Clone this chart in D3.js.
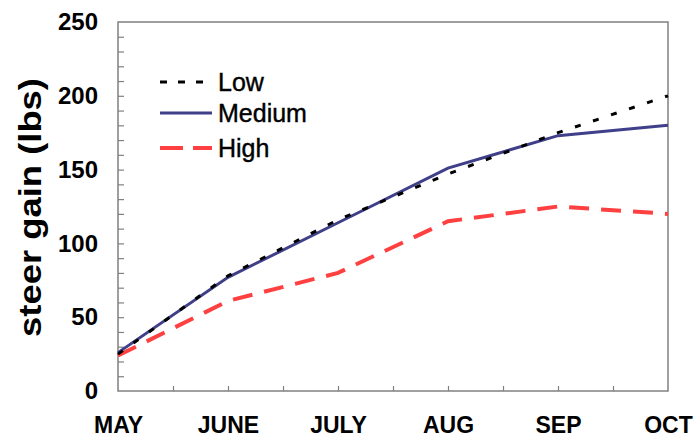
<!DOCTYPE html>
<html>
<head>
<meta charset="utf-8">
<script src="https://cdn.jsdelivr.net/npm/d3@7"></script>
<style>
  body { margin: 0; background: #fff; }
  svg { display: block; font-family: "Liberation Sans", Arial, sans-serif; }
</style>
</head>
<body>
<div id="chart"></div>
<script>
// Data
const months = ['MAY', 'JUNE', 'JULY', 'AUG', 'SEP', 'OCT'];
const low = [25, 78, 116, 147, 175, 200];
const medium = [26, 77, 114, 151, 173, 180];
const high = [24, 61, 80, 115, 125, 120];
const yTicks = [0, 50, 100, 150, 200, 250];

const width = 698, height = 440;
const margin = { top: 22, right: 30, bottom: 49, left: 118 };

const svg = d3.select('#chart').append('svg')
  .attr('width', width)
  .attr('height', height);

const x = d3.scaleLinear().domain([0, months.length - 1])
  .range([margin.left, width - margin.right]);
const y = d3.scaleLinear().domain([0, 250])
  .range([height - margin.bottom, margin.top]);

const frame = '#808080';

// minor ticks on y (every 10, pointing inward)
svg.append('g')
  .attr('transform', `translate(${margin.left},0)`)
  .call(d3.axisRight(y).tickValues(d3.range(10, 250, 10)).tickSize(6).tickFormat(''))
  .call(g => g.select('.domain').remove())
  .call(g => g.selectAll('line').attr('stroke', frame).attr('stroke-width', 1.2));

// x ticks every half month, pointing up
svg.append('g')
  .attr('transform', `translate(0,${y(0)})`)
  .call(d3.axisTop(x).tickValues(d3.range(0.5, months.length - 1, 0.5)).tickSize(5).tickFormat(''))
  .call(g => g.select('.domain').remove())
  .call(g => g.selectAll('line').attr('stroke', frame).attr('stroke-width', 1.2));

// y labels
svg.append('g')
  .attr('transform', `translate(${margin.left},0)`)
  .call(d3.axisLeft(y).tickValues(yTicks).tickSize(0).tickPadding(20))
  .call(g => g.select('.domain').remove())
  .call(g => g.selectAll('text')
    .attr('font-family', '"Liberation Sans", Arial, sans-serif')
    .attr('font-size', 24).attr('font-weight', 'bold').attr('fill', '#000'));

// x labels
svg.append('g')
  .attr('transform', `translate(0,${y(0)})`)
  .call(d3.axisBottom(x).tickValues(d3.range(months.length)).tickSize(0).tickPadding(26)
    .tickFormat(i => months[i]))
  .call(g => g.select('.domain').remove())
  .call(g => g.selectAll('text')
    .attr('font-family', '"Liberation Sans", Arial, sans-serif')
    .attr('font-size', 23).attr('font-weight', 'bold').attr('fill', '#000'));

// plot frame
svg.append('rect')
  .attr('x', x(0)).attr('y', y(250))
  .attr('width', x(months.length - 1) - x(0))
  .attr('height', y(0) - y(250))
  .attr('fill', 'none')
  .attr('stroke', frame)
  .attr('stroke-width', 1.5);

// y title
svg.append('text')
  .attr('transform', `translate(41,${(78 + 337) / 2}) rotate(-90)`)
  .attr('text-anchor', 'middle')
  .attr('font-size', 31)
  .attr('font-weight', 'bold')
  .attr('textLength', 259)
  .attr('lengthAdjust', 'spacingAndGlyphs')
  .text('steer gain (lbs)');

const series = [
  { name: 'Low', values: low, color: '#000', width: 3, dash: '6,13' },
  { name: 'Medium', values: medium, color: '#3f3f8a', width: 3, dash: null },
  { name: 'High', values: high, color: '#ff4040', width: 4, dash: '20,12' }
];

const line = d3.line()
  .x((d, i) => x(i))
  .y(d => y(d));

// draw High first, then Medium, Low on top
[series[2], series[1], series[0]].forEach(s => {
  svg.append('path')
    .datum(s.values)
    .attr('fill', 'none')
    .attr('stroke', s.color)
    .attr('stroke-width', s.width)
    .attr('stroke-dasharray', s.dash)
    .attr('d', line);
});

// legend
const legendY = [82, 113, 148];
series.forEach((s, i) => {
  svg.append('line')
    .attr('x1', 160).attr('x2', 212)
    .attr('y1', legendY[i]).attr('y2', legendY[i])
    .attr('stroke', s.color)
    .attr('stroke-width', s.width)
    .attr('stroke-dasharray', s.name === 'Low' ? '7,11' : s.name === 'High' ? '23,10' : null);
  svg.append('text')
    .attr('x', 218)
    .attr('y', legendY[i] + 9)
    .attr('font-size', 25)
    .attr('fill', '#000')
    .attr('stroke', '#000')
    .attr('stroke-width', 0.4)
    .text(s.name);
});
</script>
</body>
</html>
